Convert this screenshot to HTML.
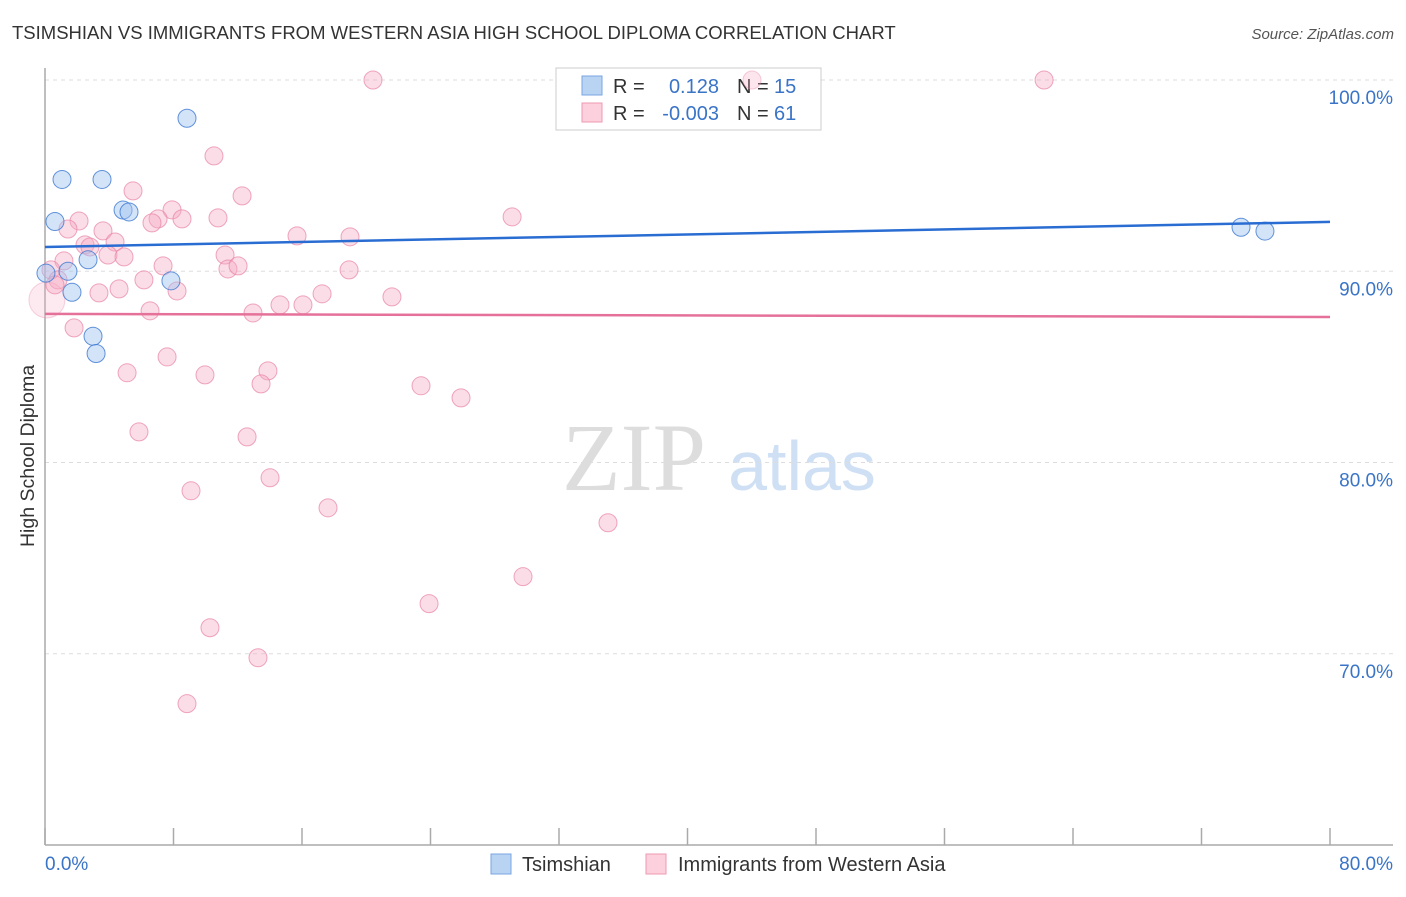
<!DOCTYPE html>
<html><head><meta charset="utf-8"><style>
body{margin:0;background:#fff;font-family:"Liberation Sans",sans-serif}
</style></head><body>
<svg id="chart" width="1406" height="892" viewBox="0 0 1406 892" xmlns="http://www.w3.org/2000/svg" font-family="Liberation Sans, sans-serif">
<text x="12" y="39" font-size="18.5" fill="#333">TSIMSHIAN VS IMMIGRANTS FROM WESTERN ASIA HIGH SCHOOL DIPLOMA CORRELATION CHART</text>
<text x="1394" y="39" font-size="15" fill="#555" text-anchor="end" font-style="italic">Source: ZipAtlas.com</text>
<g>
<text x="634" y="490" font-size="96" fill="#ddd" text-anchor="middle" style="font-family:'Liberation Serif',serif">ZIP</text>
<text x="802" y="490" font-size="70" fill="#cfe0f5" text-anchor="middle">atlas</text>
</g>
<g id="grid"></g>
<line x1="45" y1="68" x2="45" y2="845" stroke="#aaa" stroke-width="1.5"/>
<line x1="45" y1="845" x2="1393" y2="845" stroke="#aaa" stroke-width="1.5"/>
<g id="ticks"></g>
<text transform="translate(34,456) rotate(-90)" font-size="19.5" fill="#333" text-anchor="middle">High School Diploma</text>
<text x="45" y="870" font-size="19" fill="#3a74c7">0.0%</text>
<text x="1393" y="870" font-size="19" fill="#3a74c7" text-anchor="end">80.0%</text>
<g id="pinkPts"></g>
<g id="bluePts"></g>
<g id="lines"></g>
<g>
<rect x="556" y="68" width="265" height="62" fill="#fff" stroke="#ccc"/>
<rect x="582" y="76" width="20" height="19" fill="#b9d3f3" stroke="#7aa6e0"/>
<rect x="582" y="103" width="20" height="19" fill="#fcd0dc" stroke="#ee9ab2"/>
<text x="613" y="93" font-size="20" fill="#333">R =</text>
<text x="719" y="93" font-size="20" fill="#3a74c7" text-anchor="end">0.128</text>
<text x="737" y="93" font-size="20" fill="#333">N =</text>
<text x="774" y="93" font-size="20" fill="#3a74c7">15</text>
<text x="613" y="120" font-size="20" fill="#333">R =</text>
<text x="719" y="120" font-size="20" fill="#3a74c7" text-anchor="end">-0.003</text>
<text x="737" y="120" font-size="20" fill="#333">N =</text>
<text x="774" y="120" font-size="20" fill="#3a74c7">61</text>
<circle cx="752" cy="80" r="9" fill="rgba(246,170,195,0.3)" stroke="rgba(232,130,165,0.4)"/>
</g>
<g>
<rect x="491" y="854" width="20" height="20" fill="#b9d3f3" stroke="#7aa6e0"/>
<text x="522" y="871" font-size="20" fill="#333">Tsimshian</text>
<rect x="646" y="854" width="20" height="20" fill="#fcd0dc" stroke="#ee9ab2"/>
<text x="678" y="871" font-size="20" fill="#333">Immigrants from Western Asia</text>
</g>
</svg>
<script>
const blueX=[8.84,1.06,3.55,0.62,4.86,5.23,2.68,1.43,0.06,1.68,7.84,2.99,3.18,74.46,75.95];
const blueY=[98.0,94.8,94.8,92.6,93.2,93.1,90.6,90.0,89.9,88.9,89.5,86.6,85.7,92.3,92.1];
const pinkX=[20.42,44.02,62.20,10.52,5.48,12.27,7.91,2.12,7.04,8.53,6.66,10.77,29.08,1.43,3.61,15.69,18.99,2.49,4.36,2.80,3.92,4.92,11.21,1.18,7.35,11.39,12.02,18.93,0.37,0.81,6.16,3.36,4.61,8.22,17.25,21.60,14.63,16.06,6.54,12.95,1.81,7.60,5.11,9.96,13.88,13.45,23.41,25.90,5.85,12.58,9.09,14.01,17.62,35.05,29.76,23.91,10.27,13.26,8.84,0.12,0.62];
const pinkY=[100,100,100,96.03,94.20,93.94,93.21,92.63,92.74,92.74,92.53,92.79,92.84,92.21,92.11,91.85,91.80,91.38,91.53,91.27,90.85,90.75,90.85,90.54,90.28,90.12,90.28,90.07,90.07,89.55,89.55,88.87,89.08,88.97,88.82,88.66,88.24,88.24,87.93,87.82,87.04,85.52,84.69,84.58,84.79,84.11,84.01,83.38,81.60,81.34,78.52,79.20,77.63,76.85,74.03,72.62,71.36,69.79,67.39,88.50,89.29];
const blueTrend=[91.27,92.58];
const pinkTrend=[87.77,87.61];
const yTicks=[100,90,80,70];
const yTickLabels=["100.0%","90.0%","80.0%","70.0%"];
const xTicks=[0,8,16,24,32,40,48,56,64,72,80];
const NS="http://www.w3.org/2000/svg";
const sx=v=>45+v/80*1285;
const sy=v=>80+(100-v)/40*765;
function mk(t,a,p){const e=document.createElementNS(NS,t);for(const k in a)e.setAttribute(k,a[k]);p.appendChild(e);return e;}
const grid=document.getElementById('grid');
yTicks.forEach((t,i)=>{
 const l=mk('line',{x1:45,x2:1393,y1:sy(t),y2:sy(t),stroke:'#ddd','stroke-dasharray':'4,4'},grid);
 
 
 const tx=mk('text',{x:1393,y:sy(t)+24,'font-size':19,fill:'#3a74c7','text-anchor':'end'},grid);
 tx.textContent=yTickLabels[i];
 
 
});
const ticks=document.getElementById('ticks');
xTicks.forEach(t=>{
 const l=mk('line',{x1:sx(t),x2:sx(t),y1:828,y2:845,stroke:'#aaa','stroke-width':1.5},ticks);
 
 
});
const pp=document.getElementById('pinkPts');
pinkX.forEach((x,i)=>{
 const big=i===pinkX.length-2;
 const c=mk('circle',{cx:sx(x),cy:sy(pinkY[i]),r:big?18:9,fill:big?'rgba(246,170,195,0.25)':'rgba(246,170,195,0.4)',stroke:big?'rgba(232,130,165,0.35)':'rgba(232,130,165,0.7)','stroke-width':1},pp);
 
 
});
const bp=document.getElementById('bluePts');
blueX.forEach((x,i)=>{
 const c=mk('circle',{cx:sx(x),cy:sy(blueY[i]),r:9,fill:'rgba(160,196,240,0.45)',stroke:'rgba(60,120,210,0.8)','stroke-width':1},bp);
 
 
});
const lg=document.getElementById('lines');
const b=mk('line',{x1:sx(0),x2:sx(80),y1:sy(blueTrend[0]),y2:sy(blueTrend[1]),stroke:'#2a6dd2','stroke-width':2.5},lg);


const p=mk('line',{x1:sx(0),x2:sx(80),y1:sy(pinkTrend[0]),y2:sy(pinkTrend[1]),stroke:'#e5719a','stroke-width':2.5},lg);


</script>
</body></html>
